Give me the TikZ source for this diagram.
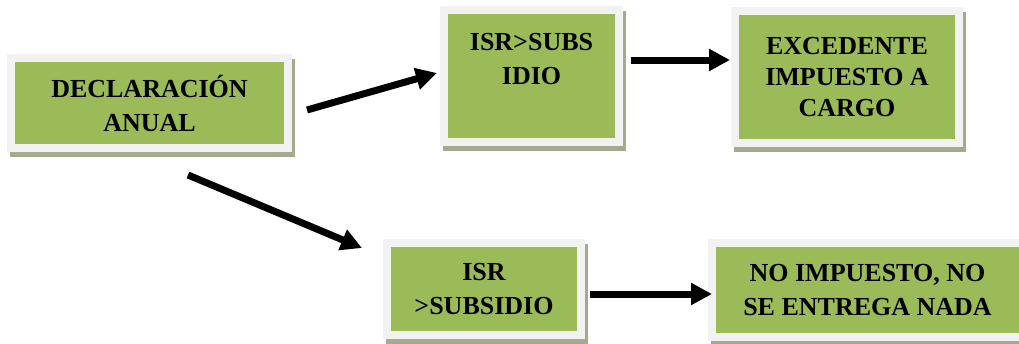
\documentclass[tikz,border=0pt]{standalone}
\usepackage{fontspec}
\setmainfont{Liberation Serif}
\usetikzlibrary{arrows.meta,backgrounds}
\definecolor{boxgreen}{HTML}{9BBB59}
\definecolor{framegray}{HTML}{F2F2F2}
\definecolor{shadowgray}{HTML}{A5AA8E}
\tikzset{
  greenbox/.style={fill=boxgreen, inner sep=0pt, align=center, text=black,
    font=\fontsize{26}{34}\selectfont\bfseries},
  flow/.style={line width=7pt, -{Triangle[length=21pt,width=21pt]}},
}
\newcommand\boxdeco[1]{%
  \fill[shadowgray] ([shift={(-5pt,-13pt)}]#1.south west) rectangle ([shift={(11pt,3pt)}]#1.north east);
  \fill[framegray] ([shift={(-8pt,-8pt)}]#1.south west) rectangle ([shift={(8pt,8pt)}]#1.north east);}
\begin{document}
\begin{tikzpicture}[x=1pt,y=-1pt]
\useasboundingbox (0,0) rectangle (1019,343);
\node[greenbox, minimum width=269pt, minimum height=82pt] (decl) at (149.5,103) {DECLARACIÓN\\ANUAL};
\node[greenbox, minimum width=167pt, minimum height=124pt] (mayor) at (531.5,76) {ISR>SUBS\\IDIO\\\mbox{}};
\node[greenbox, minimum width=216pt, minimum height=124pt, font=\fontsize{26}{31}\selectfont\bfseries] (exced) at (847,77) {EXCEDENTE\\IMPUESTO A\\CARGO};
\node[greenbox, minimum width=186pt, minimum height=84pt] (menor) at (484,289) {ISR\\>SUBSIDIO};
\node[greenbox, minimum width=303pt, minimum height=86pt] (noimp) at (867.5,290) {NO IMPUESTO, NO\\SE ENTREGA NADA};
\begin{scope}[on background layer]
  \boxdeco{decl}
  \boxdeco{mayor}
  \boxdeco{exced}
  \boxdeco{menor}
  \boxdeco{noimp}
\end{scope}
\coordinate (a1s) at (307,110); \coordinate (a1e) at (437,73);
\coordinate (a2s) at (188,175); \coordinate (a2e) at (362,248);
\coordinate (a3s) at (631,60);  \coordinate (a3e) at (730,60);
\coordinate (a4s) at (590,294); \coordinate (a4e) at (712,294);
\draw[flow] (a1s) -- (a1e);
\draw[flow] (a2s) -- (a2e);
\draw[flow] (a3s) -- (a3e);
\draw[flow] (a4s) -- (a4e);
\end{tikzpicture}
\end{document}
